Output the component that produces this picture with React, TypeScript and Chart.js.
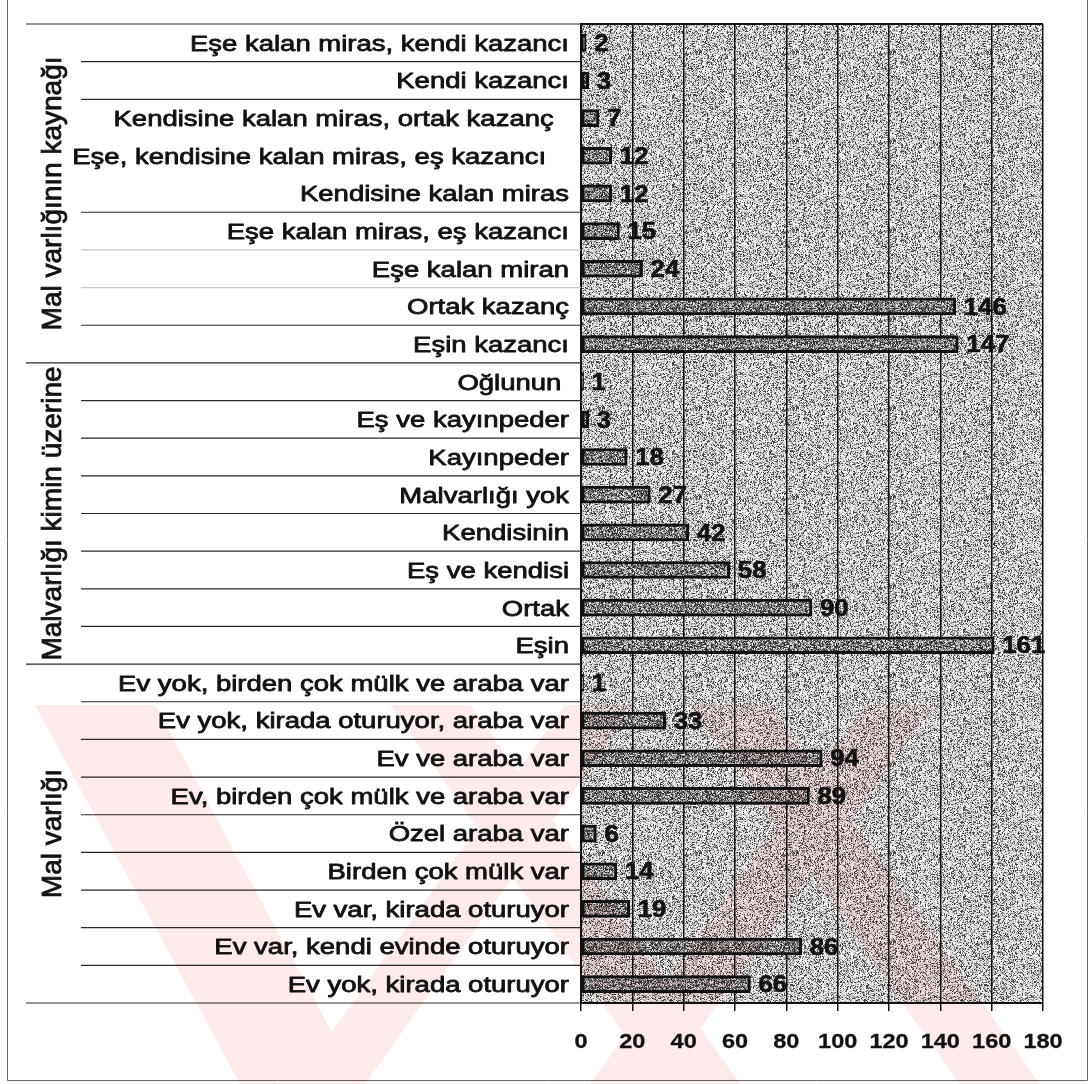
import { useEffect, useRef } from 'react';
import { Chart, registerables } from 'chart.js';

Chart.register(...registerables);

// ---------------- data ----------------
const GROUP_NAMES = ['Mal varlığının kaynağı', 'Malvarlığı kimin üzerine', 'Mal varlığı'];

const SOURCE_LABELS = [
  'Eşe kalan miras, kendi kazancı',
  'Kendi kazancı',
  'Kendisine kalan miras, ortak kazanç  ',
  'Eşe, kendisine kalan miras, eş kazancı   ',
  'Kendisine kalan miras',
  'Eşe kalan miras, eş kazancı',
  'Eşe kalan miran',
  'Ortak kazanç',
  'Eşin kazancı',
];
const SOURCE_VALUES = [2, 3, 7, 12, 12, 15, 24, 146, 147];

const OWNER_LABELS = [
  'Oğlunun ',
  'Eş ve kayınpeder',
  'Kayınpeder',
  'Malvarlığı yok',
  'Kendisinin',
  'Eş ve kendisi',
  'Ortak',
  'Eşin',
];
const OWNER_VALUES = [1, 3, 18, 27, 42, 58, 90, 161];

const ASSET_LABELS = [
  'Ev yok, birden çok mülk ve araba var',
  'Ev yok, kirada oturuyor, araba var',
  'Ev ve araba var',
  'Ev, birden çok mülk ve araba var',
  'Özel araba var',
  'Birden çok mülk var',
  'Ev var, kirada oturuyor',
  'Ev var, kendi evinde oturuyor',
  'Ev yok, kirada oturuyor',
];
const ASSET_VALUES = [1, 33, 94, 89, 6, 14, 19, 86, 66];

const X_TICKS = [0, 20, 40, 60, 80, 100, 120, 140, 160, 180];

const GROUP_LABELS = [SOURCE_LABELS, OWNER_LABELS, ASSET_LABELS];
const LABELS = [...SOURCE_LABELS, ...OWNER_LABELS, ...ASSET_LABELS];
const VALUES = [...SOURCE_VALUES, ...OWNER_VALUES, ...ASSET_VALUES];

// ---------------- style ----------------
const FONT = "'Liberation Sans', Arial, Helvetica, sans-serif";
const INK = '#121212';
// separator style for the boundary below each row (0 none, 1 faint, 2 solid, 3 group)
const SEP_STYLE = [2, 2, 0, 0, 2, 1, 1, 2, 3, 2, 2, 2, 2, 2, 2, 2, 3, 2, 2, 2, 2, 2, 2, 2, 2, 3];

function makeNoise(w: number, h: number, seed: number, levels: number[], weights: number[]) {
  const c = document.createElement('canvas');
  c.width = w;
  c.height = h;
  const cx = c.getContext('2d')!;
  const img = cx.createImageData(w, h);
  let s = seed >>> 0;
  for (let i = 0; i < w * h; i++) {
    s ^= s << 13; s >>>= 0;
    s ^= s >>> 17;
    s ^= s << 5; s >>>= 0;
    const r = s / 4294967296;
    let acc = 0;
    let v = levels[levels.length - 1];
    for (let k = 0; k < levels.length; k++) {
      acc += weights[k];
      if (r < acc) { v = levels[k]; break; }
    }
    img.data[i * 4] = v;
    img.data[i * 4 + 1] = v;
    img.data[i * 4 + 2] = v;
    img.data[i * 4 + 3] = 255;
  }
  cx.putImageData(img, 0, 0);
  return c;
}

function stretchedText(
  ctx: CanvasRenderingContext2D, text: string, x: number, y: number,
  sx: number, align: CanvasTextAlign, thick: number
) {
  ctx.save();
  ctx.translate(x, y);
  ctx.scale(sx, 1);
  ctx.textAlign = align;
  ctx.textBaseline = 'alphabetic';
  ctx.fillText(text, 0, 0);
  if (thick > 0) {
    ctx.lineWidth = thick;
    ctx.lineJoin = 'round';
    ctx.strokeStyle = ctx.fillStyle as string;
    ctx.strokeText(text, 0, 0);
  }
  ctx.restore();
}

export default function App() {
  const ref = useRef<HTMLCanvasElement>(null);

  useEffect(() => {
    const canvas = ref.current!;
    const helper = document.createElement('canvas').getContext('2d')!;
    const bgPattern = helper.createPattern(
      makeNoise(97, 89, 123456789, [70, 160, 210, 248], [0.2, 0.2, 0.28, 0.32]),
      'repeat'
    )!;
    const barPattern = helper.createPattern(
      makeNoise(83, 71, 987654321, [50, 120, 180, 230], [0.35, 0.3, 0.2, 0.15]),
      'repeat'
    )!;

    const overlay = {
      id: 'overlay',
      beforeDraw(chart: any) {
        const { ctx, chartArea: a } = chart;
        ctx.save();
        ctx.fillStyle = '#ffffff';
        ctx.fillRect(0, 0, chart.width, chart.height);
        ctx.fillStyle = bgPattern;
        ctx.fillRect(a.left, a.top, a.right - a.left, a.bottom - a.top);
        ctx.restore();
      },
      afterDatasetsDraw(chart: any) {
        const { ctx } = chart;
        const meta = chart.getDatasetMeta(0);
        ctx.save();
        ctx.fillStyle = INK;
        ctx.font = `bold 23px ${FONT}`;
        meta.data.forEach((bar: any, i: number) => {
          stretchedText(ctx, String(VALUES[i]), bar.x + 8, bar.y + 8.2, 1.12, 'left', 0.6);
        });
        ctx.restore();
      },
      afterDraw(chart: any) {
        const { ctx, chartArea: a } = chart;
        const ys = chart.scales.y;
        const xs = chart.scales.x;
        const n = LABELS.length;
        const rowH = (a.bottom - a.top) / n;
        ctx.save();

        // plot top border
        ctx.strokeStyle = INK;
        ctx.lineWidth = 2;
        ctx.beginPath();
        ctx.moveTo(a.left, a.top);
        ctx.lineTo(a.right, a.top);
        ctx.stroke();

        // separators in the label area
        const drawSep = (y: number, x0: number, color: string) => {
          ctx.strokeStyle = color;
          ctx.lineWidth = 1.2;
          ctx.beginPath();
          ctx.moveTo(x0, y);
          ctx.lineTo(a.left, y);
          ctx.stroke();
        };
        drawSep(a.top, 26, '#2a2a2a');
        for (let k = 0; k < n; k++) {
          const st = SEP_STYLE[k];
          const y = a.top + (k + 1) * rowH;
          if (st === 3) drawSep(y, 26, '#2a2a2a');
          else if (st === 2) drawSep(y, 81, '#2a2a2a');
          else if (st === 1) drawSep(y, 81, '#c8c8c8');
        }

        // category labels
        ctx.fillStyle = INK;
        ctx.font = `22px ${FONT}`;
        LABELS.forEach((lab, i) => {
          const y = ys.getPixelForValue(i);
          stretchedText(ctx, lab, a.left - 12, y + 7.9, 1.25, 'right', 0.8);
        });

        // group labels (rotated)
        ctx.font = `28px ${FONT}`;
        ctx.lineWidth = 0.8;
        ctx.strokeStyle = INK;
        let start = 0;
        GROUP_LABELS.forEach((g, gi) => {
          const yTop = a.top + start * rowH;
          const yBot = a.top + (start + g.length) * rowH;
          start += g.length;
          ctx.save();
          ctx.translate(61, (yTop + yBot) / 2);
          ctx.rotate(-Math.PI / 2);
          ctx.textAlign = 'center';
          ctx.textBaseline = 'alphabetic';
          ctx.fillText(GROUP_NAMES[gi], 0, 0);
          ctx.strokeText(GROUP_NAMES[gi], 0, 0);
          ctx.restore();
        });

        // x tick labels
        ctx.font = `bold 21px ${FONT}`;
        X_TICKS.forEach((t) => {
          stretchedText(ctx, String(t), xs.getPixelForValue(t), 1048, 1.12, 'center', 0.3);
        });

        // outer frame (left, right, bottom)
        ctx.strokeStyle = '#666';
        ctx.lineWidth = 1;
        ctx.beginPath();
        ctx.moveTo(7.5, 0);
        ctx.lineTo(7.5, 1080.5);
        ctx.lineTo(1087.5, 1080.5);
        ctx.lineTo(1087.5, 0);
        ctx.stroke();

        // faint watermark
        const top = 705;
        const bottom = 1084;
        const bands = [
          [95, 300, 120],
          [430, 700, 80],
          [730, 1000, 80],
          [900, 625, 70],
          [600, 330, 70],
        ];
        ctx.globalCompositeOperation = 'multiply';
        ctx.fillStyle = 'rgb(253,234,234)';
        ctx.beginPath();
        bands.forEach(([xt, xb, w]) => {
          ctx.moveTo(xt - w / 2, top);
          ctx.lineTo(xt + w / 2, top);
          ctx.lineTo(xb + w / 2, bottom);
          ctx.lineTo(xb - w / 2, bottom);
          ctx.closePath();
        });
        ctx.fill('nonzero');
        ctx.restore();
      },
    };

    const chart = new Chart(canvas, {
      type: 'bar',
      data: {
        labels: LABELS,
        datasets: [
          {
            data: VALUES,
            backgroundColor: barPattern,
            borderColor: '#101010',
            borderWidth: 3,
            borderSkipped: false,
            barThickness: 17,
          } as any,
        ],
      },
      options: {
        indexAxis: 'y',
        responsive: false,
        animation: false,
        devicePixelRatio: 1,
        layout: { padding: { top: 24, right: 46, bottom: 0, left: 0 } },
        plugins: { legend: { display: false }, tooltip: { enabled: false } },
        scales: {
          x: {
            type: 'linear',
            min: 0,
            max: 180,
            position: 'bottom',
            ticks: { stepSize: 20, display: false },
            grid: { color: INK, lineWidth: 1.5, drawTicks: true, tickLength: 8, tickColor: INK },
            border: { display: true, color: INK, width: 2 },
            afterFit(s: any) { s.height = 81; },
          },
          y: {
            type: 'category',
            ticks: { display: false },
            grid: { display: false },
            border: { display: true, color: INK, width: 2 },
            afterFit(s: any) { s.width = 581; },
          },
        },
      } as any,
      plugins: [overlay],
    });
    return () => chart.destroy();
  }, []);

  return (
    <div style={{ position: 'absolute', left: 0, top: 0, width: 1089, height: 1084, background: '#fff' }}>
      <canvas ref={ref} width={1089} height={1084} style={{ display: 'block', width: 1089, height: 1084 }} />
    </div>
  );
}
